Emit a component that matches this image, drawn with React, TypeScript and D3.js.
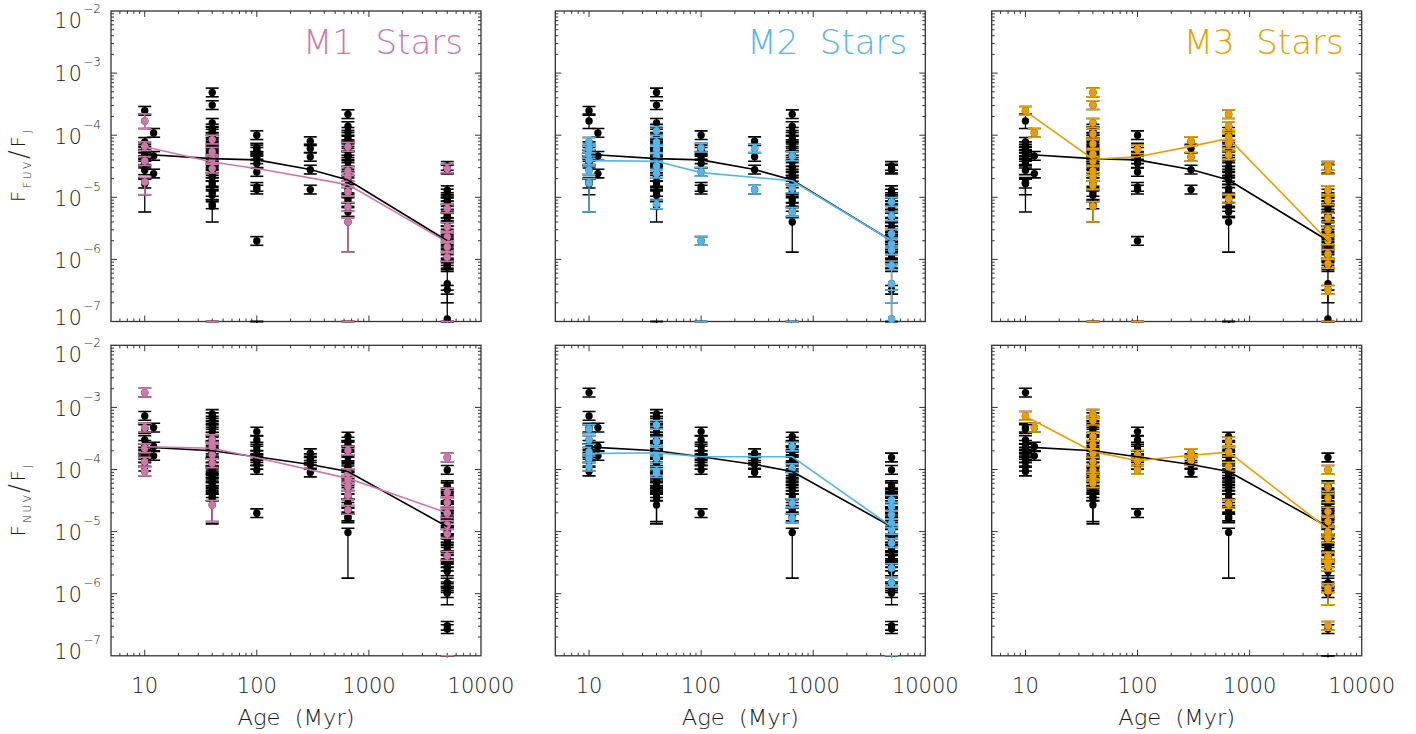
import React from "react";
import * as d3 from "d3";

// ---------------- data ----------------
const ageDomain = [5, 10000];
const fluxDomain = [1e-7, 1e-2];
const ageTickValues = [10, 100, 1000, 10000];
const fluxTickExponents = [-2, -3, -4, -5, -6, -7];
const subtypeNames = ["M1", "M2", "M3"];
const subtypeColors = ["#CC79A7", "#56B4E9", "#E69F00"];
const bandNames = ["FUV", "NUV"];

// [age (Myr), F_band / F_J, subtype (0 = other), lower bound, upper bound]
const fuvStars = [
  [10, 2.47e-4, 3], [10, 1.7e-4, 1, 1.28e-4, 2.2e-4], [10, 7.8e-5, 2], [10, 6.65e-5, 1], [10, 6.1e-5, 2],
  [10, 5.4e-5, 0], [10, 4.94e-5, 2], [10, 4.48e-5, 0], [10, 3.95e-5, 2], [10, 3.85e-5, 1], [10, 3.49e-5, 0],
  [10, 2.72e-5, 2], [10, 1.77e-5, 1, 1.1e-5, null], [10, 1.7e-5, 2, 5.8e-6, null], [10, 1.66e-5, 0],
  [12, 1.09e-4, 3], [12, 4.64e-5, 0], [12, 2.41e-5, 0],
  [40, 4.88e-4, 3], [40, 3.05e-4, 3], [40, 1.58e-4, 3], [40, 1.28e-4, 0], [40, 1.17e-4, 2], [40, 1.06e-4, 3],
  [40, 9.4e-5, 0], [40, 8.5e-5, 1], [40, 7.8e-5, 2], [40, 7.2e-5, 3], [40, 6.5e-5, 0], [40, 5.9e-5, 2],
  [40, 5.4e-5, 1], [40, 4.94e-5, 3], [40, 4.48e-5, 2], [40, 4.15e-5, 1], [40, 3.85e-5, 3], [40, 3.49e-5, 0],
  [40, 3.2e-5, 2], [40, 2.9e-5, 1], [40, 2.66e-5, 3], [40, 2.41e-5, 2], [40, 2.13e-5, 3], [40, 1.77e-5, 0],
  [40, 1.56e-5, 3], [40, 1.22e-5, 0], [40, 1.08e-5, 0], [40, 7.7e-6, 2], [40, 7.2e-6, 3, 4.0e-6, null],
  [40, 6e-8, 1, null, 1e-7], [40, 6e-8, 3, null, 1e-7],
  [100, 1.0e-4, 0], [100, 6.3e-5, 2], [100, 5.9e-5, 3], [100, 5.4e-5, 0], [100, 4.64e-5, 0], [100, 4.1e-5, 0],
  [100, 3.49e-5, 0], [100, 2.56e-5, 2], [100, 1.47e-5, 0], [100, 1.33e-5, 0], [100, 1.98e-6, 2],
  [100, 6e-8, 2, null, 1e-7], [100, 6e-8, 3, null, 1e-7],
  [300, 8.0e-5, 3], [300, 6.1e-5, 2], [300, 4.48e-5, 3], [300, 2.79e-5, 0], [300, 1.33e-5, 2],
  [650, 2.18e-4, 3], [650, 1.4e-4, 3], [650, 1.13e-4, 0], [650, 9.4e-5, 3], [650, 8.5e-5, 0], [650, 7.2e-5, 3],
  [650, 6.5e-5, 1], [650, 5.6e-5, 0], [650, 4.75e-5, 3], [650, 4.58e-5, 2], [650, 3.72e-5, 0], [650, 3.08e-5, 0],
  [650, 2.66e-5, 1], [650, 2.41e-5, 0], [650, 2.13e-5, 1], [650, 1.88e-5, 0], [650, 1.38e-5, 2], [650, 1.22e-5, 1],
  [650, 9.5e-6, 3], [650, 8.4e-6, 0], [650, 7.0e-6, 1], [650, 5.8e-6, 2], [650, 4.0e-6, 1, 1.31e-6, null],
  [650, 6e-8, 1, null, 1e-7], [650, 6e-8, 2, null, 1e-7],
  [5000, 3.2e-5, 3], [5000, 2.9e-5, 1], [5000, 2.79e-5, 3], [5000, 1.3e-5, 3], [5000, 1.15e-5, 0], [5000, 1.01e-5, 0],
  [5000, 8.95e-6, 3], [5000, 8.4e-6, 2], [5000, 7.4e-6, 0], [5000, 6.6e-6, 1], [5000, 5.45e-6, 0], [5000, 4.94e-6, 2],
  [5000, 4.7e-6, 3], [5000, 4.0e-6, 0], [5000, 3.32e-6, 1], [5000, 2.94e-6, 3], [5000, 2.6e-6, 2], [5000, 2.29e-6, 1],
  [5000, 2.02e-6, 3], [5000, 1.79e-6, 2], [5000, 1.58e-6, 1], [5000, 1.4e-6, 2], [5000, 1.23e-6, 3], [5000, 1.09e-6, 1],
  [5000, 8.5e-7, 3], [5000, 8.0e-7, 2], [5000, 7.5e-7, 0], [5000, 4.05e-7, 2, 2.0e-7, 8.0e-7], [5000, 3.24e-7, 3],
  [5000, 1.1e-7, 2, null, 3.2e-7],
  [5000, 6e-8, 1, null, 1e-7], [5000, 6e-8, 3, null, 1e-7],
];

const nuvStars = [
  [10, 1.73e-3, 1], [10, 7.3e-4, 3], [10, 4.73e-4, 1], [10, 4.5e-4, 2], [10, 2.99e-4, 2], [10, 2.49e-4, 0],
  [10, 2.2e-4, 1], [10, 1.94e-4, 2], [10, 1.72e-4, 0], [10, 1.52e-4, 2], [10, 1.34e-4, 1], [10, 1.11e-4, 2],
  [10, 9.27e-5, 1],
  [12, 4.73e-4, 3], [12, 2.34e-4, 0], [12, 1.66e-4, 0],
  [40, 7.85e-4, 3], [40, 6.94e-4, 0], [40, 6.13e-4, 3], [40, 5.23e-4, 2], [40, 4.62e-4, 0], [40, 4.08e-4, 0],
  [40, 3.39e-4, 3], [40, 3.07e-4, 1], [40, 2.82e-4, 2], [40, 2.49e-4, 3], [40, 2.34e-4, 1], [40, 1.94e-4, 2],
  [40, 1.83e-4, 3], [40, 1.72e-4, 1], [40, 1.52e-4, 2], [40, 1.34e-4, 3], [40, 1.26e-4, 1], [40, 1.11e-4, 0],
  [40, 9.86e-5, 3], [40, 9.5e-5, 2], [40, 8.71e-5, 2], [40, 7.69e-5, 3], [40, 7.23e-5, 0], [40, 6.39e-5, 0],
  [40, 6.01e-5, 3], [40, 5.31e-5, 0], [40, 4.7e-5, 0], [40, 4.15e-5, 0], [40, 3.67e-5, 0],
  [40, 3.45e-5, 0, 1.33e-5, null], [40, 2.69e-5, 1, 1.45e-5, null],
  [100, 4.08e-4, 0], [100, 2.99e-4, 0], [100, 2.34e-4, 0], [100, 2.02e-4, 0], [100, 1.72e-4, 3], [100, 1.52e-4, 0],
  [100, 1.37e-4, 3], [100, 1.19e-4, 0], [100, 9.86e-5, 3], [100, 1.98e-5, 0],
  [300, 1.83e-4, 3], [300, 1.52e-4, 0], [300, 1.39e-4, 3], [300, 1.19e-4, 0], [300, 8.93e-5, 0],
  [650, 3.39e-4, 0], [650, 2.82e-4, 3], [650, 2.49e-4, 0], [650, 2.34e-4, 2], [650, 2.02e-4, 1], [650, 1.94e-4, 3],
  [650, 1.62e-4, 0], [650, 1.34e-4, 0], [650, 1.11e-4, 3], [650, 1.05e-4, 2], [650, 8.71e-5, 1], [650, 7.69e-5, 0],
  [650, 6.8e-5, 1], [650, 6.01e-5, 0], [650, 5.31e-5, 1], [650, 4.7e-5, 0], [650, 3.9e-5, 1], [650, 3.45e-5, 0],
  [650, 2.86e-5, 2], [650, 2.79e-5, 3], [650, 2.24e-5, 1], [650, 1.75e-5, 0], [650, 1.64e-5, 2],
  [650, 9.66e-6, 0, 1.78e-6, null],
  [5000, 1.56e-4, 1], [5000, 9.86e-5, 3], [5000, 5.58e-5, 0], [5000, 5.19e-5, 3], [5000, 4.26e-5, 1], [5000, 3.67e-5, 0],
  [5000, 3.45e-5, 3], [5000, 3.24e-5, 2], [5000, 2.94e-5, 1], [5000, 2.53e-5, 2], [5000, 2.38e-5, 0], [5000, 2.1e-5, 3],
  [5000, 1.98e-5, 1], [5000, 1.86e-5, 2], [5000, 1.64e-5, 0], [5000, 1.45e-5, 3], [5000, 1.36e-5, 2], [5000, 1.28e-5, 1],
  [5000, 1.07e-5, 2], [5000, 1.0e-5, 3], [5000, 9.2e-6, 1], [5000, 7.83e-6, 3], [5000, 7.36e-6, 0], [5000, 6.5e-6, 2],
  [5000, 5.75e-6, 0], [5000, 5.08e-6, 0], [5000, 4.07e-6, 1], [5000, 3.97e-6, 3], [5000, 3.51e-6, 0], [5000, 3.1e-6, 3],
  [5000, 2.74e-6, 3], [5000, 2.58e-6, 2, 1.3e-6, null], [5000, 2.28e-6, 0], [5000, 1.51e-6, 2], [5000, 1.31e-6, 0],
  [5000, 1.23e-6, 3], [5000, 1.11e-6, 3, 6.62e-7, null], [5000, 1.02e-6, 0], [5000, 3.04e-7, 3], [5000, 2.69e-7, 0],
  [5000, 6e-8, 1, null, 1e-7], [5000, 6e-8, 2, null, 1e-7],
];

// medians [age, value]
const fuvMedianAll = [[10.5, 4.9e-5], [40, 4.2e-5], [100, 4.0e-5], [300, 2.8e-5], [650, 1.9e-5], [5000, 2.0e-6]];
const fuvMedianM1 = [[10.5, 6.4e-5], [40, 3.7e-5], [100, 2.9e-5], [650, 1.6e-5], [5000, 1.9e-6]];
const fuvMedianM2 = [[10, 3.9e-5], [40, 3.8e-5], [100, 2.5e-5], [650, 1.85e-5], [5000, 2.0e-6]];
const fuvMedianM3 = [[10, 2.44e-4], [40, 4.1e-5], [100, 4.5e-5], [300, 6.6e-5], [650, 8.9e-5], [5000, 2.0e-6]];
const nuvMedianAll = [[10.5, 2.29e-4], [40, 2.0e-4], [100, 1.6e-4], [300, 1.2e-4], [650, 9.3e-5], [5000, 1.2e-5]];
const nuvMedianM1 = [[10.5, 2.33e-4], [40, 2.2e-4], [100, 1.55e-4], [650, 7.2e-5], [5000, 2.0e-5]];
const nuvMedianM2 = [[10, 1.8e-4], [40, 1.86e-4], [100, 1.6e-4], [650, 1.6e-4], [5000, 1.2e-5]];
const nuvMedianM3 = [[10, 7.2e-4], [40, 1.94e-4], [100, 1.38e-4], [300, 1.7e-4], [650, 1.9e-4], [5000, 1.1e-5]];

// ---------------- layout ----------------
const W = 1416;
const H = 734;
const colLefts = [111, 555.3, 991.7];
const rowTops = [11, 345.3];
const PW = 370;
const PH = 310.5;
const ERR_DEX = 0.07;
const FONT = "'DejaVu Sans', Lato, sans-serif";
const FW = 200;
const AXIS = "#333";
const TXT = "#1a1a1a";

function isMajor(v: number) {
  const l = Math.log10(v);
  return Math.abs(l - Math.round(l)) < 1e-6;
}

function Panel({ ri, ci }: { ri: number; ci: number }) {
  const left = colLefts[ci];
  const top = rowTops[ri];
  const right = left + PW;
  const bottom = top + PH;
  const x = d3.scaleLog().domain(ageDomain).range([left, right]);
  const y = d3.scaleLog().domain(fluxDomain).range([bottom, top]);
  const stars: any[] = ri === 0 ? fuvStars : nuvStars;
  const medAll = ri === 0 ? fuvMedianAll : nuvMedianAll;
  const medSub = ri === 0 ? [fuvMedianM1, fuvMedianM2, fuvMedianM3][ci] : [nuvMedianM1, nuvMedianM2, nuvMedianM3][ci];
  const color = subtypeColors[ci];
  const clipId = `clip-${ri}-${ci}`;
  const line = d3.line<number[]>().x((d) => x(d[0])).y((d) => y(d[1]));

  const xt = x.ticks().filter((v) => v > ageDomain[0] && v < ageDomain[1]);
  const yt = y.ticks().filter((v) => v > fluxDomain[0] * 1.001 && v < fluxDomain[1] * 0.999);

  const drawStar = (s: any[], col: string, key: string) => {
    const v = s[1];
    const lo = s[3] ?? v / Math.pow(10, ERR_DEX);
    const hi = s[4] ?? v * Math.pow(10, ERR_DEX);
    const cx = x(s[0]);
    return (
      <g key={key}>
        <g stroke={col} strokeWidth={1.3}>
          <line x1={cx} x2={cx} y1={y(lo)} y2={y(hi)} />
          <line x1={cx - 6.5} x2={cx + 6.5} y1={y(lo)} y2={y(lo)} strokeWidth={1.6} />
          <line x1={cx - 6.5} x2={cx + 6.5} y1={y(hi)} y2={y(hi)} strokeWidth={1.6} />
        </g>
        <circle cx={cx} cy={y(v)} r={3.7} fill={col} />
      </g>
    );
  };

  return (
    <g>
      <defs>
        <clipPath id={clipId}>
          <rect x={left} y={top - 1} width={PW} height={PH + 2.5} />
        </clipPath>
      </defs>
      <rect x={left} y={top} width={PW} height={PH} fill="none" stroke={AXIS} strokeWidth={1.3} />
      <g stroke={AXIS} strokeWidth={1}>
        {xt.map((v, i) => {
          const len = isMajor(v) ? 6 : 3;
          const px = x(v);
          return (
            <g key={"xt" + i}>
              <line x1={px} x2={px} y1={bottom} y2={bottom - len} />
              <line x1={px} x2={px} y1={top} y2={top + len} />
            </g>
          );
        })}
        {yt.map((v, i) => {
          const len = isMajor(v) ? 6 : 3;
          const py = y(v);
          return (
            <g key={"yt" + i}>
              <line x1={left} x2={left + len} y1={py} y2={py} />
              <line x1={right} x2={right - len} y1={py} y2={py} />
            </g>
          );
        })}
      </g>
      <g clipPath={`url(#${clipId})`}>
        {stars.map((s, i) => drawStar(s, "#000", "b" + i))}
        {stars.filter((s) => s[2] === ci + 1).map((s, i) => drawStar(s, color, "c" + i))}
        <path d={line(medAll as number[][]) || ""} fill="none" stroke="#000" strokeWidth={1.6} />
        <path d={line(medSub as number[][]) || ""} fill="none" stroke={color} strokeWidth={1.6} />
      </g>
      {ri === 0 && (
        <text
          x={right - 18}
          y={top + 43}
          textAnchor="end"
          fontSize={34}
          fontWeight={FW}
          fill={color}
          fontFamily={FONT}
          style={{ whiteSpace: "pre" }}
          textLength={160}
          lengthAdjust="spacingAndGlyphs"
        >
          {subtypeNames[ci] + "  Stars"}
        </text>
      )}
      {ci === 0 &&
        fluxTickExponents.map((e) => {
          const py = y(Math.pow(10, e));
          const base = Math.min(Math.max(py + 8.3, top + 17), bottom + 3);
          return (
            <text key={"yl" + e} x={101} y={base} textAnchor="end" fontSize={20.5} fontWeight={FW} fill={TXT} fontFamily={FONT}>
              <tspan letterSpacing={1.5}>10</tspan>
              <tspan dy={-15} fontSize={12}>{"\u2212" + Math.abs(e)}</tspan>
            </text>
          );
        })}
      {ci === 0 && (
        <text
          transform={`translate(25,${(top + bottom) / 2}) rotate(-90)`}
          textAnchor="middle"
          fontSize={20}
          fontWeight={FW}
          fill={TXT}
          fontFamily={FONT}
          textLength={72}
          lengthAdjust="spacing"
        >
          <tspan>F</tspan>
          <tspan dy={6} fontSize={10.5}>{bandNames[ri]}</tspan>
          <tspan dy={-3} fontSize={26}>/</tspan>
          <tspan dy={-3}>F</tspan>
          <tspan dy={6} fontSize={10.5}>J</tspan>
        </text>
      )}
      {ri === 1 &&
        ageTickValues.map((v) => (
          <text key={"xl" + v} x={x(v)} y={693} textAnchor="middle" fontSize={21} fontWeight={FW} fill={TXT} fontFamily={FONT}>
            {String(v)}
          </text>
        ))}
      {ri === 1 && (
        <text
          x={(left + right) / 2}
          y={725}
          textAnchor="middle"
          fontSize={21}
          fontWeight={FW}
          fill={TXT}
          fontFamily={FONT}
          style={{ whiteSpace: "pre" }}
          textLength={117}
          lengthAdjust="spacingAndGlyphs"
        >
          {"Age  (Myr)"}
        </text>
      )}
    </g>
  );
}

export default function App() {
  return (
    <svg width={W} height={H} style={{ position: "absolute", left: 0, top: 0, background: "#fff" }}>
      <rect x={0} y={0} width={W} height={H} fill="#fff" />
      {rowTops.map((_, ri) => colLefts.map((_, ci) => <Panel key={`${ri}-${ci}`} ri={ri} ci={ci} />))}
    </svg>
  );
}
